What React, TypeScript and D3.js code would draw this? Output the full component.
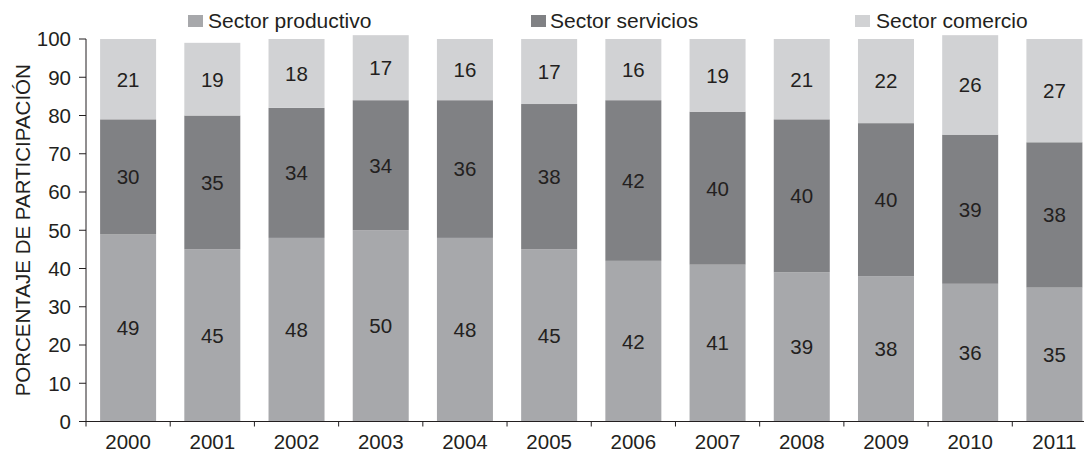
import React from "react";
import * as d3 from "d3";

const years = ["2000","2001","2002","2003","2004","2005","2006","2007","2008","2009","2010","2011"];
const productivo = [49,45,48,50,48,45,42,41,39,38,36,35];
const servicios = [30,35,34,34,36,38,42,40,40,40,39,38];
const comercio = [21,19,18,17,16,17,16,19,21,22,26,27];
const yTicks = [0,10,20,30,40,50,60,70,80,90,100];
const seriesNames = ["Sector productivo","Sector servicios","Sector comercio"];
const colors = ["#a7a8ab","#808184","#d1d2d4"];

const W = 1089, H = 452;
const FONT = "'Liberation Sans', Arial, sans-serif";
const TXT = "#231f20";

export default function App() {
  const x = d3.scaleBand<string>().domain(years).range([86, 1096.5]).paddingInner(0.335).paddingOuter(0.1675);
  const y = d3.scaleLinear().domain([0, 100]).range([421.5, 39]);
  const rows = years.map((yr, i) => ({ year: yr, p: productivo[i], s: servicios[i], c: comercio[i] }));
  const stack = d3.stack<any>().keys(["p","s","c"]);
  const series = stack(rows);
  const legendX = [[188, 208], [531, 550], [855, 876]];
  const step = x.step();
  return (
    <svg width={W} height={H} style={{ position: "absolute", left: 0, top: 0, background: "#fff" }} fontFamily={FONT}>
      {series.map((s, si) => (
        <g key={si}>
          {s.map((d, i) => (
            <g key={i}>
              <rect x={x(years[i])} y={y(d[1])} width={x.bandwidth()} height={y(d[0]) - y(d[1])} fill={colors[si]} />
              <text x={(x(years[i]) as number) + x.bandwidth() / 2} y={y((d[0] + d[1]) / 2)} dy="0.36em" textAnchor="middle" fontSize={20.5} fill={TXT}>
                {d[1] - d[0]}
              </text>
            </g>
          ))}
        </g>
      ))}
      {/* y axis */}
      <line x1={86} x2={86} y1={y(100)} y2={y(0)} stroke={TXT} strokeWidth={1} />
      {yTicks.map((t) => (
        <g key={t}>
          <line x1={79} x2={86} y1={y(t)} y2={y(t)} stroke={TXT} />
          <text x={71} y={y(t)} dy="0.36em" textAnchor="end" fontSize={20.5} fill={TXT}>{t}</text>
        </g>
      ))}
      {/* x axis */}
      <line x1={86} x2={1084} y1={y(0)} y2={y(0)} stroke={TXT} />
      {years.map((yr, i) => (
        <g key={yr}>
          <line x1={86 + i * step} x2={86 + i * step} y1={y(0)} y2={y(0) + 5} stroke={TXT} />
          <text x={(x(yr) as number) + x.bandwidth() / 2} y={448.5} textAnchor="middle" fontSize={20.5} fill={TXT}>{yr}</text>
        </g>
      ))}
      <text transform={`translate(30,${(y(0) + y(100)) / 2}) rotate(-90)`} textAnchor="middle" fontSize={20.5} fill={TXT}>
        PORCENTAJE DE PARTICIPACIÓN
      </text>
      {/* legend */}
      {seriesNames.map((n, i) => (
        <g key={n}>
          <rect x={legendX[i][0]} y={15} width={15} height={12} fill={colors[i]} />
          <text x={legendX[i][1]} y={27.5} fontSize={21} fill={TXT}>{n}</text>
        </g>
      ))}
    </svg>
  );
}
